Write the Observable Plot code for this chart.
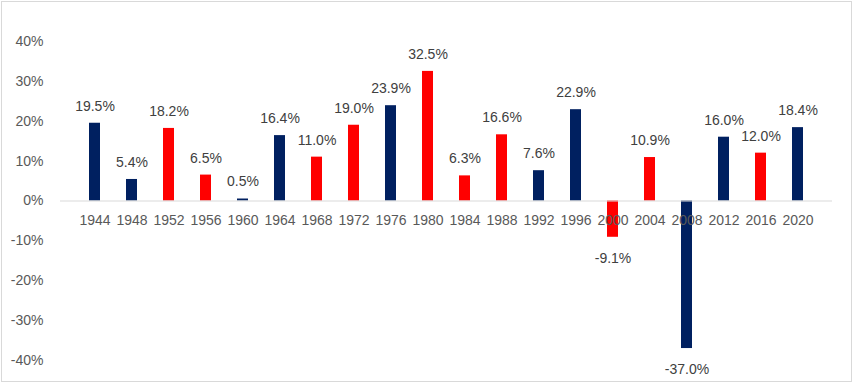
<!DOCTYPE html>
<html>
<head>
<meta charset="utf-8">
<script src="https://cdn.jsdelivr.net/npm/d3@7"></script>
<script src="https://cdn.jsdelivr.net/npm/@observablehq/plot@0.6"></script>
<style>
  html, body { margin: 0; padding: 0; background: #fff; }
  #chart svg { display: block; outline: 1px solid #d9d9d9; outline-offset: -2px; }
</style>
</head>
<body>
<div id="chart"></div>
<script>
const years = ["1944","1948","1952","1956","1960","1964","1968","1972","1976","1980","1984","1988","1992","1996","2000","2004","2008","2012","2016","2020"];
const values = [19.5, 5.4, 18.2, 6.5, 0.5, 16.4, 11.0, 19.0, 23.9, 32.5, 6.3, 16.6, 7.6, 22.9, -9.1, 10.9, -37.0, 16.0, 12.0, 18.4];
const parties = ["D","D","R","R","D","D","R","R","D","R","R","R","D","D","R","R","D","D","R","D"];
const yTicks = [-40, -30, -20, -10, 0, 10, 20, 30, 40];

const data = years.map((y, i) => ({year: y, value: values[i], party: parties[i]}));
const font = "'Liberation Sans', Arial, sans-serif";

const chart = Plot.plot({
  width: 853,
  height: 383,
  marginTop: 41,
  marginBottom: 23,
  marginLeft: 60,
  marginRight: 21,
  style: {fontFamily: font, fontSize: "14px", background: "#fff"},
  x: {type: "band", domain: years, padding: 0.69, axis: null},
  y: {domain: [-40, 40], ticks: yTicks, tickFormat: d => d + "%", tickSize: 0, tickPadding: 17, label: null},
  color: {domain: ["D", "R"], range: ["#002060", "#ff0000"]},
  marks: [
    Plot.axisY({ticks: yTicks, tickFormat: d => d + "%", tickSize: 0, tickPadding: 17, label: null, fill: "#595959", fontSize: 14}),
    Plot.barY(data, {x: "year", y: "value", fill: "party"}),
    Plot.ruleY([0], {stroke: "#d9d9d9", strokeWidth: 1}),
    Plot.text(data, {x: "year", y: 0, text: "year", dy: 20, fill: "#595959", fontSize: 14}),
    Plot.text(data.filter(d => d.value >= 0), {x: "year", y: "value", text: d => d.value.toFixed(1) + "%", dy: -17, fill: "#404040", fontSize: 14}),
    Plot.text(data.filter(d => d.value < 0), {x: "year", y: "value", text: d => d.value.toFixed(1) + "%", dy: 21, fill: "#404040", fontSize: 14})
  ]
});
document.getElementById("chart").appendChild(chart);
</script>
</body>
</html>
